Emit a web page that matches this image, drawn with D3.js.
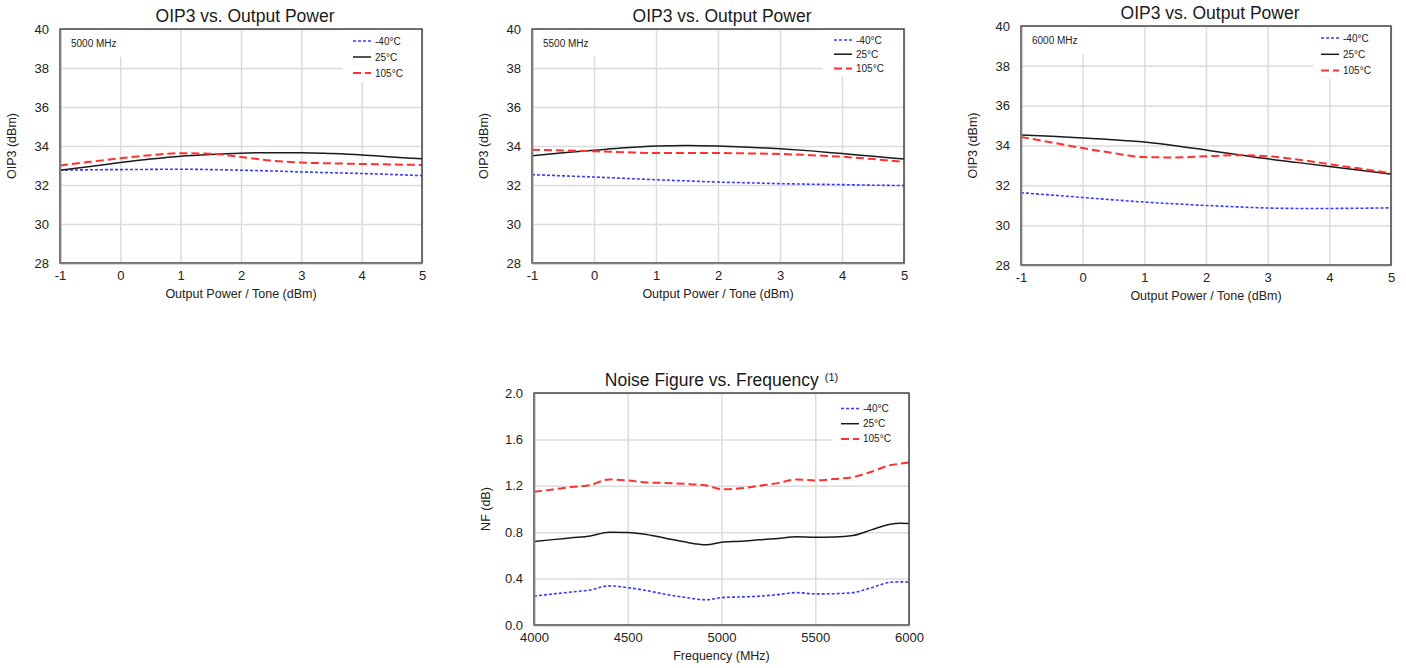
<!DOCTYPE html>
<html>
<head>
<meta charset="utf-8">
<script src="https://cdn.jsdelivr.net/npm/d3@7"></script>
<style>
  body { margin: 0; background: #fff; }
  svg { display: block; font-family: "Liberation Sans", Arial, sans-serif; }
</style>
</head>
<body>
<div id="main_chart"></div>
<script>
// --- data ---
const tempLabels = ["-40°C", "25°C", "105°C"];

const oipPower = [-1, -0.5, 0, 0.5, 1, 1.5, 2, 2.5, 3, 3.5, 4, 4.5, 5];
const oipXTicks = [-1, 0, 1, 2, 3, 4, 5];
const oipYTicks = [28, 30, 32, 34, 36, 38, 40];

const oip5000Cold = [32.76, 32.78, 32.79, 32.80, 32.81, 32.79, 32.76, 32.72, 32.67, 32.63, 32.59, 32.54, 32.48];
const oip5000Room = [32.76, 32.95, 33.15, 33.33, 33.48, 33.57, 33.63, 33.66, 33.66, 33.61, 33.54, 33.44, 33.34];
const oip5000Hot  = [33.00, 33.19, 33.37, 33.53, 33.63, 33.60, 33.44, 33.25, 33.15, 33.11, 33.08, 33.05, 33.03];

const oip5500Cold = [32.53, 32.47, 32.41, 32.34, 32.27, 32.21, 32.15, 32.11, 32.07, 32.04, 32.02, 31.99, 31.97];
const oip5500Room = [33.50, 33.65, 33.78, 33.91, 34.00, 34.03, 34.00, 33.94, 33.86, 33.75, 33.61, 33.47, 33.33];
const oip5500Hot  = [33.81, 33.77, 33.73, 33.68, 33.64, 33.64, 33.64, 33.62, 33.59, 33.53, 33.45, 33.33, 33.18];

const oip6000Cold = [31.63, 31.51, 31.39, 31.27, 31.16, 31.07, 30.99, 30.92, 30.86, 30.84, 30.84, 30.85, 30.87];
const oip6000Room = [34.53, 34.46, 34.38, 34.29, 34.17, 33.99, 33.77, 33.55, 33.33, 33.14, 32.95, 32.76, 32.56];
const oip6000Hot  = [34.43, 34.15, 33.87, 33.62, 33.42, 33.40, 33.46, 33.51, 33.46, 33.29, 33.06, 32.84, 32.61];

const nfFreq = [4000, 4100, 4200, 4300, 4400, 4500, 4600, 4700, 4800, 4920, 5000, 5100, 5200, 5300, 5400, 5500, 5600, 5700, 5800, 5900, 5950, 6000];
const nfXTicks = [4000, 4500, 5000, 5500, 6000];
const nfYTicks = [0, 0.4, 0.8, 1.2, 1.6, 2.0];
const nfCold = [0.250, 0.267, 0.285, 0.302, 0.337, 0.322, 0.297, 0.265, 0.239, 0.217, 0.236, 0.242, 0.248, 0.262, 0.279, 0.268, 0.270, 0.279, 0.322, 0.368, 0.372, 0.371];
const nfRoom = [0.719, 0.736, 0.752, 0.768, 0.800, 0.797, 0.780, 0.748, 0.717, 0.692, 0.714, 0.722, 0.734, 0.745, 0.760, 0.757, 0.759, 0.771, 0.820, 0.869, 0.878, 0.875];
const nfHot  = [1.148, 1.168, 1.190, 1.206, 1.255, 1.246, 1.229, 1.225, 1.217, 1.203, 1.171, 1.178, 1.200, 1.223, 1.255, 1.246, 1.258, 1.275, 1.321, 1.378, 1.390, 1.401];

// line styles per temperature
const styles = [
  { color: "#3a3aff", width: 1.6, dash: "3,2" },
  { color: "#1a1a1a", width: 1.5, dash: null },
  { color: "#ff3030", width: 2, dash: "8,4" }
];

const width = 1406;
const height = 668;

// plain hyphen for negatives, like the original
const intFmt = (d) => String(d);

const svg = d3.create("svg").attr("width", width).attr("height", height);

const panels = [
  { left: 60, right: 422, top: 29, bottom: 263, title: "OIP3 vs. Output Power", titleY: 22,
    x: oipPower, xDomain: [-1, 5], xTicks: oipXTicks, xFmt: intFmt,
    yDomain: [28, 40], yTicks: oipYTicks, yFmt: intFmt,
    xLabel: "Output Power / Tone (dBm)", yLabel: "OIP3 (dBm)",
    series: [oip5000Cold, oip5000Room, oip5000Hot], note: "5000 MHz",
    legendX: 353, legendY: 41, legendStep: 16, legendBox: [343, 81] },
  { left: 532, right: 904, top: 29, bottom: 263, title: "OIP3 vs. Output Power", titleY: 22,
    x: oipPower, xDomain: [-1, 5], xTicks: oipXTicks, xFmt: intFmt,
    yDomain: [28, 40], yTicks: oipYTicks, yFmt: intFmt,
    xLabel: "Output Power / Tone (dBm)", yLabel: "OIP3 (dBm)",
    series: [oip5500Cold, oip5500Room, oip5500Hot], note: "5500 MHz",
    legendX: 834, legendY: 40, legendStep: 14.2, legendBox: [823, 75] },
  { left: 1021, right: 1391, top: 26, bottom: 265, title: "OIP3 vs. Output Power", titleY: 18.5,
    x: oipPower, xDomain: [-1, 5], xTicks: oipXTicks, xFmt: intFmt,
    yDomain: [28, 40], yTicks: oipYTicks, yFmt: intFmt,
    xLabel: "Output Power / Tone (dBm)", yLabel: "OIP3 (dBm)",
    series: [oip6000Cold, oip6000Room, oip6000Hot], note: "6000 MHz",
    legendX: 1321, legendY: 38, legendStep: 16.3, legendBox: [1313, 78] },
  { left: 534, right: 909, top: 393, bottom: 625, title: "Noise Figure vs. Frequency", titleY: 386, sup: "(1)",
    x: nfFreq, xDomain: [4000, 6000], xTicks: nfXTicks, xFmt: intFmt,
    yDomain: [0, 2], yTicks: nfYTicks, yFmt: d3.format(".1f"),
    xLabel: "Frequency (MHz)", yLabel: "NF (dB)",
    series: [nfCold, nfRoom, nfHot], note: null,
    legendX: 841, legendY: 408.5, legendStep: 15.2, legendBox: [833, 446] }
];

panels.forEach((p) => {
  const xScale = d3.scaleLinear().domain(p.xDomain).range([p.left, p.right]);
  const yScale = d3.scaleLinear().domain(p.yDomain).range([p.bottom, p.top]);
  const g = svg.append("g");

  // gridlines
  g.append("g")
    .attr("transform", `translate(0,${p.bottom})`)
    .call(d3.axisBottom(xScale).tickValues(p.xTicks).tickSize(-(p.bottom - p.top)).tickFormat(""))
    .call((a) => a.select(".domain").remove())
    .call((a) => a.selectAll("line").attr("stroke", "#dcdcdc").attr("stroke-width", 1.5));
  g.append("g")
    .attr("transform", `translate(${p.left},0)`)
    .call(d3.axisLeft(yScale).tickValues(p.yTicks).tickSize(-(p.right - p.left)).tickFormat(""))
    .call((a) => a.select(".domain").remove())
    .call((a) => a.selectAll("line").attr("stroke", "#dcdcdc").attr("stroke-width", 1.5));

  // white boxes behind the frequency note and the legend
  if (p.note) {
    g.append("rect").attr("x", p.left + 2).attr("y", p.top + 1)
      .attr("width", 64).attr("height", 27).attr("fill", "#fff");
    g.append("text").attr("x", p.left + 11).attr("y", p.top + 18)
      .attr("font-size", 10).attr("fill", "#222").text(p.note);
  }
  g.append("rect").attr("x", p.legendBox[0]).attr("y", p.top + 1)
    .attr("width", p.right - p.legendBox[0] - 1).attr("height", p.legendBox[1] - p.top)
    .attr("fill", "#fff");

  // series
  const line = d3.line()
    .x((d, i) => xScale(p.x[i]))
    .y((d) => yScale(d))
    .curve(d3.curveMonotoneX);
  p.series.forEach((s, i) => {
    g.append("path")
      .attr("fill", "none")
      .attr("stroke", styles[i].color)
      .attr("stroke-width", styles[i].width)
      .attr("stroke-dasharray", styles[i].dash)
      .attr("d", line(s));
  });

  // frame
  g.append("rect")
    .attr("x", p.left).attr("y", p.top)
    .attr("width", p.right - p.left).attr("height", p.bottom - p.top)
    .attr("fill", "none").attr("stroke", "#3a3a3a").attr("stroke-width", 1.4);

  // axes (labels only)
  g.append("g")
    .attr("transform", `translate(0,${p.bottom})`)
    .call(d3.axisBottom(xScale).tickValues(p.xTicks).tickFormat(p.xFmt).tickSize(0).tickPadding(8))
    .call((a) => a.select(".domain").attr("stroke", "#808080").attr("stroke-width", 1.6))
    .call((a) => a.selectAll("text").attr("font-size", 13).attr("fill", "#222")
      .attr("font-family", "Liberation Sans, Arial, sans-serif"));
  g.append("g")
    .attr("transform", `translate(${p.left},0)`)
    .call(d3.axisLeft(yScale).tickValues(p.yTicks).tickFormat(p.yFmt).tickSize(0).tickPadding(11))
    .call((a) => a.select(".domain").attr("stroke", "#808080").attr("stroke-width", 1.6))
    .call((a) => a.selectAll("text").attr("font-size", 13).attr("fill", "#222")
      .attr("font-family", "Liberation Sans, Arial, sans-serif"));

  // titles
  const cx = (p.left + p.right) / 2;
  const title = g.append("text")
    .attr("x", p.sup ? cx : cx + 4).attr("y", p.titleY)
    .attr("text-anchor", "middle").attr("font-size", 17.5).attr("fill", "#1a1a1a")
    .text(p.title);
  if (p.sup) {
    title.append("tspan").attr("font-size", 11).attr("dx", 6).attr("dy", -5).text(p.sup);
  }
  g.append("text")
    .attr("x", cx).attr("y", p.bottom + 35)
    .attr("text-anchor", "middle").attr("font-size", 12.5).attr("fill", "#222")
    .text(p.xLabel);
  g.append("text")
    .attr("transform", `translate(${p.left - 44},${(p.top + p.bottom) / 2}) rotate(-90)`)
    .attr("text-anchor", "middle").attr("font-size", 12.5).attr("fill", "#222")
    .text(p.yLabel);

  // legend
  tempLabels.forEach((t, i) => {
    const ly = p.legendY + i * p.legendStep;
    g.append("line")
      .attr("x1", p.legendX).attr("x2", p.legendX + 18)
      .attr("y1", ly).attr("y2", ly)
      .attr("stroke", styles[i].color)
      .attr("stroke-width", styles[i].width)
      .attr("stroke-dasharray", styles[i].dash);
    g.append("text")
      .attr("x", p.legendX + 22).attr("y", ly + 3.5)
      .attr("font-size", 10).attr("fill", "#222")
      .text(t);
  });
});

document.getElementById("main_chart").append(svg.node());
</script>
</body>
</html>
